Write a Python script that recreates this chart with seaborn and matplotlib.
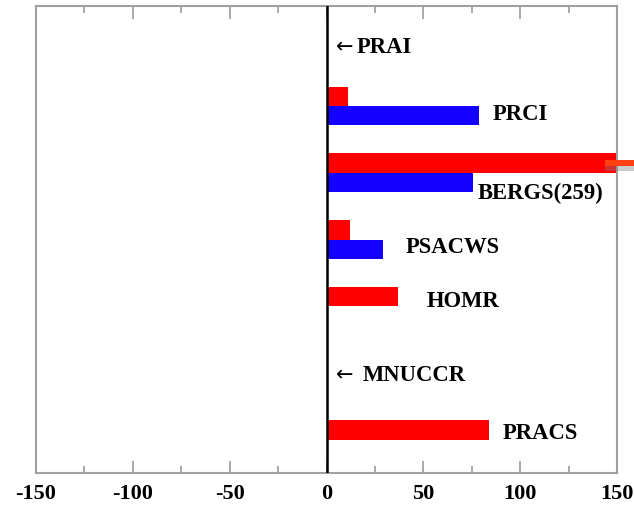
import matplotlib
matplotlib.use("Agg")
import matplotlib.pyplot as plt
from matplotlib.patches import Rectangle
from matplotlib.ticker import MultipleLocator
import numpy as np
import pandas as pd
import seaborn as sns

# Process names (top to bottom) and their tendencies for the two series
processes = ["PRAI", "PRCI", "BERGS", "PSACWS", "HOMR", "MNUCCR", "PRACS"]
red_values = [0.0, 11.0, 259.0, 12.0, 37.0, 0.5, 84.0]
blue_values = [0.0, 78.5, 75.5, 29.0, 0.0, 0.5, 0.0]
series_names = ["red", "blue"]
series_colors = ["#ff0000", "#1400ff"]

# Text placed beside each group: (text, x, y)
labels = [
    ("PRAI", 15.7, 0.10),
    ("PRCI", 85.8, 1.11),
    ("BERGS(259)", 78.0, 2.29),
    ("PSACWS", 41.0, 3.10),
    ("HOMR", 51.7, 3.91),
    ("MNUCCR", 18.6, 5.02),
    ("PRACS", 91.0, 5.89),
]
# leftward arrows pointing at the near-zero processes: (x, y)
arrows = [(5.0, 0.10), (4.8, 5.02)]
xticks = [-150, -100, -50, 0, 50, 100, 150]

df = pd.DataFrame({
    "process": processes * 2,
    "value": red_values + blue_values,
    "series": [series_names[0]] * len(processes) + [series_names[1]] * len(processes),
})
df["process"] = pd.Categorical(df["process"], categories=processes, ordered=True)

sns.set_style("white")
plt.rcParams["font.family"] = ["Liberation Serif", "DejaVu Serif"]
plt.rcParams["text.color"] = "black"
plt.rcParams["xtick.color"] = "black"

fig = plt.figure(figsize=(6.34, 5.10), dpi=100)
ax = fig.add_axes([36 / 634, 1 - 474 / 510, (617 - 36) / 634, (474 - 7) / 510])

sns.barplot(
    data=df, x="value", y="process", hue="series", orient="h",
    hue_order=series_names, palette=series_colors, width=0.58,
    linewidth=0, saturation=1, legend=False, ax=ax,
)

ax.set_xlim(-150, 150)
ax.set_ylim(6.5, -0.5)
ax.set_xlabel("")
ax.set_ylabel("")
ax.set_yticks([])
ax.set_xticks(xticks)
ax.set_xticklabels([str(t) for t in xticks], fontsize=16, fontweight="bold",
                   color="black")
ax.xaxis.set_minor_locator(MultipleLocator(25))
ax.tick_params(axis="x", which="major", direction="in", length=9, width=1.2,
               color="#9a9a9a", labelcolor="black", top=True, bottom=True, pad=7)
ax.tick_params(axis="x", which="minor", direction="in", length=5, width=1.2,
               color="#9a9a9a", top=True, bottom=True)
for sp in ax.spines.values():
    sp.set_color("#a0a0a0")
    sp.set_linewidth(1.5)

# zero reference line
ax.axvline(0, color="black", linewidth=1.8, zorder=5)

# overflow marker for the bar that runs past the axis limit
ax.add_patch(Rectangle((143.8, 1.90), 16, 0.08, facecolor="#808080", alpha=0.4,
                       edgecolor="none", clip_on=False, zorder=6))
ax.add_patch(Rectangle((143.8, 1.81), 16, 0.09, facecolor="#ff4010",
                       edgecolor="none", clip_on=False, zorder=7))

for text, x, y in labels:
    ax.text(x, y, text, ha="left", va="center", fontsize=16.3, fontweight="bold",
            color="black", zorder=8)
for x, y in arrows:
    ax.text(x, y, "\u2190", ha="left", va="center", fontsize=15,
            family="DejaVu Sans", color="black", zorder=8)

fig.savefig("out.png", dpi=100)
